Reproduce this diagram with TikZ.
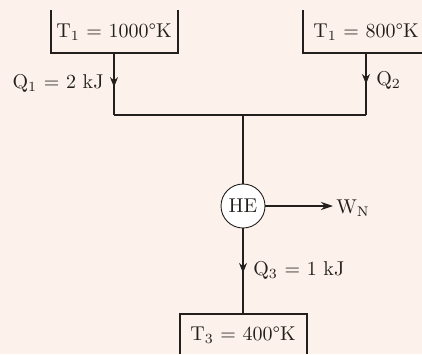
\documentclass[tikz,border=0pt]{standalone}
\usetikzlibrary{arrows.meta,decorations.markings}
\definecolor{bg}{HTML}{FCF2EB}
\definecolor{ink}{HTML}{231F1C}
\begin{document}
\begin{tikzpicture}[x=0.5pt,y=-0.5pt,
  line/.style={draw=ink,line width=0.55pt},
  midarrow/.style={line,postaction={decorate},decoration={markings,mark=at position #1 with {\arrow{Stealth[length=5pt,width=4pt]}}}},
  lbl/.style={inner sep=1pt,text=ink}]
\fill[bg] (0,0) rectangle (422,354);
\useasboundingbox (0,0) rectangle (422,354);
% reservoirs
\node[lbl] (t1) at (114,32) {T$_1$ = 1000\textdegree K};
\node[lbl] (t2) at (366,32) {T$_1$ = 800\textdegree K};
\node[lbl] (t3) at (243,335) {T$_3$ = 400\textdegree K};
\draw[line] (51,10) |- (178,53) -- (178,10);
\draw[line] (303,10) |- (422,53);
\draw[line] (180,354) |- (307,314) -- (307,354);
% junctions
\coordinate (b1) at (114,53);
\coordinate (b2) at (366,53);
\coordinate (j1) at (114,115);
\coordinate (j2) at (366,115);
\coordinate (j0) at (243,115);
\coordinate (b3) at (243,314);
\node[circle,draw=ink,line width=0.45pt,fill=white,minimum size=22pt,inner sep=0pt,text=ink] (he) at (243,206) {HE};
\draw[midarrow=0.55] (b1) -- (j1);
\draw[midarrow=0.5] (b2) -- (j2);
\draw[line] (j1) -- (j2);
\draw[line] (j0) -- (he.north);
\draw[midarrow=0.52] (he.south) -- (b3);
\coordinate (w) at (333,206);
\draw[line,-{Stealth[length=6pt,width=4pt]}] (he.east) -- (w);
% labels
\node[lbl,anchor=east] (q1) at (106,83) {Q$_1$ = 2 kJ};
\node[lbl,anchor=west] (q2) at (374,80) {Q$_2$};
\node[lbl,anchor=west] (q3) at (251,270) {Q$_3$ = 1 kJ};
\node[lbl,anchor=west] (wn) at (334,208) {W$_\mathrm{N}$};
\end{tikzpicture}
\end{document}
